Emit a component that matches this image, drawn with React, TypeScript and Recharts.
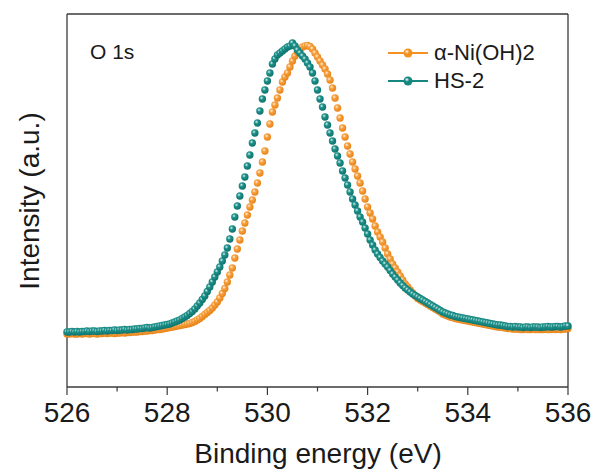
import { LineChart, Line, XAxis, YAxis, ReferenceLine } from 'recharts'

// XPS O 1s spectra, binding energy grid 526–536 eV
const energyStart = 526
const energyStep = 0.05

// α-Ni(OH)2 intensity (a.u.)
const niOH2 = [
  53, 53, 53.5, 53, 53, 53.5, 53, 53.5, 53.5, 53,
  53.5, 53.5, 53, 53.5, 53.5, 54, 53.5, 54, 54, 53.5,
  54, 54, 54.5, 54, 54.5, 54.5, 55, 55, 55, 55.5,
  55.5, 56, 56, 56.5, 56.5, 57, 57.5, 57.5, 58, 58.5,
  59, 59.5, 60, 60.5, 61, 61.5, 62, 62.5, 63, 63.5,
  64.5, 65.5, 67, 68.5, 70.5, 72.5, 74.5, 76.5, 79, 82,
  85, 89, 93.5, 98.5, 105, 112, 119, 129, 138, 147,
  156, 164, 172, 180, 187, 195, 204, 214, 225, 236,
  250, 263, 275, 282, 289, 297, 305, 310, 314, 320,
  326, 331, 335, 338, 340, 341, 341.5, 340.5, 338, 334,
  330, 326, 322, 318, 313, 307, 299, 289, 279, 269,
  259, 250, 241, 233, 225, 218, 211, 204, 196, 188,
  180, 174, 168, 161, 155, 150, 145, 139, 133, 128,
  123, 119, 115, 111, 107, 103, 100, 97, 94, 91,
  88.5, 87, 85.5, 84, 82.5, 81, 79.5, 78, 76.5, 75,
  73, 72, 71, 70, 69.5, 68.5, 68, 67.5, 67, 66.5,
  66, 65.5, 65, 64.5, 64, 63.5, 63, 62.5, 62, 61.5,
  61, 60.5, 60, 60, 59.5, 59, 58.5, 58.5, 58, 58,
  58, 57.5, 57.5, 58, 57.5, 57.5, 58, 57.5, 57.5, 57.5,
  57.5, 58, 57.5, 57.5, 58, 57.5, 58, 57.5, 58, 58,
  58.5,
]

// HS-2 intensity (a.u.)
const hs2 = [
  55, 55, 55.5, 55, 55.5, 55, 55.5, 55.5, 56, 55.5,
  56, 56, 55.5, 56, 56, 56.5, 56, 56.5, 56.5, 57,
  56.5, 57, 57, 57.5, 57, 57.5, 57.5, 58, 58, 58.5,
  58.5, 59, 59.5, 59, 59.5, 60, 60.5, 61, 61.5, 62,
  62.5, 63, 64, 65, 66, 67, 68.5, 70, 71.5, 73.5,
  75.5, 78, 81, 84, 87.5, 91, 95.5, 100, 105, 110,
  115, 120, 126, 132, 139, 148, 158, 170, 181, 191,
  201, 210, 221, 232, 244, 254, 264, 276, 288, 297,
  306, 314, 323, 328, 332, 334, 336, 338, 340, 341,
  344, 341, 337, 334, 331, 328, 324, 320, 314, 306,
  297, 288, 280, 270, 262, 254, 246, 238, 231, 224,
  216, 209, 202, 195, 188, 182, 176, 170, 165, 159,
  153, 147, 142, 137, 133, 129.5, 126, 123, 120, 116.5,
  113, 110, 107, 104, 101.5, 99, 97, 95, 93, 91.5,
  90, 88.5, 87, 85.5, 84, 82.5, 81, 79.5, 78, 76.5,
  75, 74, 73, 72, 71.5, 70.5, 70, 69.5, 69, 68.5,
  68, 67.5, 67, 66.5, 66, 65.5, 65, 64.5, 64, 63.5,
  63, 62.5, 62, 62, 61.5, 61, 60.5, 60.5, 60, 60.5,
  60, 60, 59.5, 60, 60, 59.5, 60, 60, 60, 59.5,
  60, 60, 60.5, 60, 60, 60.5, 60.5, 60, 60.5, 61,
  61,
]

const seriesNames = ['α-Ni(OH)2', 'HS-2']
const xTicks = [526, 527, 528, 529, 530, 531, 532, 533, 534, 535, 536]
const xLabels = [526, 528, 530, 532, 534, 536]

const FONT = 'Arial, "Liberation Sans", Helvetica, sans-serif'
const AXIS = '#3a3a3a'
const ORANGE = '#F39221'
const TEAL = '#168680'

const rows = niOH2.map((v, i) => ({
  energy: +(energyStart + i * energyStep).toFixed(2),
  ni: v,
  hs: hs2[i],
}))

const makeDot = (grad: string) => (props: any) => {
  const { cx, cy, index } = props
  if (cx == null || cy == null) return <g key={index} />
  return <circle key={index} cx={cx} cy={cy} r={3.7} fill={`url(#${grad})`} />
}

const BottomTick = (props: any) => {
  const { x, y, payload } = props
  const major = xLabels.includes(payload.value)
  return (
    <g>
      <line x1={x} x2={x} y1={y} y2={y + (major ? 8 : 4.5)} stroke={AXIS} strokeWidth={1.2} />
      {major && (
        <text x={x} y={y + 35} textAnchor="middle" fontSize={28} fontFamily={FONT} fill="#1a1a1a">
          {payload.value}
        </text>
      )}
    </g>
  )
}

function LegendItem({ color, grad, name, top }: { color: string; grad: string; name: string; top: number }) {
  return (
    <div style={{ position: 'absolute', left: 387, top, display: 'flex', alignItems: 'center', height: 28 }}>
      <svg width={42} height={14}>
        <defs>
          <radialGradient id={`${grad}-lg`} cx="38%" cy="35%" r="70%">
            <stop offset="0%" stopColor="#ffffff" stopOpacity={0.9} />
            <stop offset="35%" stopColor={color} />
            <stop offset="100%" stopColor={color} />
          </radialGradient>
        </defs>
        <line x1={1} x2={41} y1={7} y2={7} stroke={color} strokeWidth={2} />
        <circle cx={21} cy={7} r={4.5} fill={`url(#${grad}-lg)`} />
      </svg>
      <span style={{ marginLeft: 5, fontSize: 22, fontFamily: FONT, color: '#1a1a1a', lineHeight: '28px' }}>{name}</span>
    </div>
  )
}

export default function App() {
  return (
    <div style={{ position: 'absolute', left: 0, top: 0, width: 595, height: 470, background: '#fff' }}>
      <LineChart width={595} height={470} data={rows} margin={{ top: 14, right: 27, left: 0, bottom: 0 }}>
        <defs>
          <radialGradient id="gOrange" cx="38%" cy="35%" r="70%">
            <stop offset="0%" stopColor="#fff3e0" />
            <stop offset="35%" stopColor="#F7A040" />
            <stop offset="100%" stopColor="#E57F10" />
          </radialGradient>
          <radialGradient id="gTeal" cx="38%" cy="35%" r="70%">
            <stop offset="0%" stopColor="#d8f2ef" />
            <stop offset="35%" stopColor="#1E918A" />
            <stop offset="100%" stopColor="#0C6F6A" />
          </radialGradient>
        </defs>
        <XAxis
          dataKey="energy"
          type="number"
          domain={[526, 536]}
          ticks={xTicks}
          interval={0}
          height={83}
          tickSize={0}
          tickMargin={0}
          tickLine={false}
          tick={<BottomTick />}
          axisLine={{ stroke: AXIS, strokeWidth: 1.3 }}
          label={() => (
            <text x={318} y={463} textAnchor="middle" fontSize={28} fontFamily={FONT} fill="#1a1a1a">
              Binding energy (eV)
            </text>
          )}
        />
        <YAxis
          type="number"
          domain={[0, 373]}
          width={67}
          tick={false}
          tickLine={false}
          axisLine={{ stroke: AXIS, strokeWidth: 1.3 }}
          label={() => (
            <text
              x={39}
              y={201}
              transform="rotate(-90 39 201)"
              textAnchor="middle"
              fontSize={28}
              fontFamily={FONT}
              fill="#1a1a1a"
            >
              Intensity (a.u.)
            </text>
          )}
        />
        <ReferenceLine y={373} stroke={AXIS} strokeWidth={1.3} />
        <ReferenceLine x={536} stroke={AXIS} strokeWidth={1.3} />
        <Line
          dataKey="ni"
          name={seriesNames[0]}
          stroke="none"
          dot={makeDot('gOrange')}
          activeDot={false}
          isAnimationActive={false}
        />
        <Line
          dataKey="hs"
          name={seriesNames[1]}
          stroke="none"
          dot={makeDot('gTeal')}
          activeDot={false}
          isAnimationActive={false}
        />
      </LineChart>
      <div
        style={{ position: 'absolute', left: 90, top: 38, fontSize: 21, fontFamily: FONT, color: '#1a1a1a', lineHeight: '28px' }}
      >
        O 1s
      </div>
      <LegendItem color={ORANGE} grad="lo" name={seriesNames[0]} top={39} />
      <LegendItem color={TEAL} grad="lt" name={seriesNames[1]} top={67} />
    </div>
  )
}
